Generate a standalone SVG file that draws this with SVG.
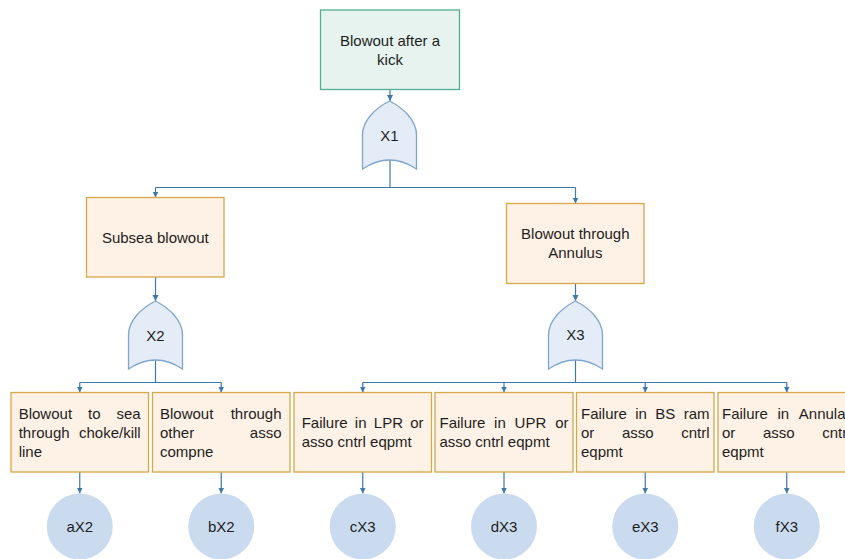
<svg xmlns="http://www.w3.org/2000/svg" width="845" height="559" viewBox="0 0 845 559">
<style>
text{font-family:"Liberation Sans",Arial,sans-serif;font-size:15px;fill:#1e1e1e}
.c{text-anchor:middle}
.e{text-anchor:end}
.top{fill:#e6f3ef;stroke:#55ad93;stroke-width:1.3}
.box{fill:#fef1e5;stroke:#d8a748;stroke-width:1.3}
.gate{fill:#e4ecf7;stroke:#7ea6cd;stroke-width:1.3}
.ev{fill:#cbdbef}
.ln{fill:none;stroke:#3d78ab;stroke-width:1.2}
.la{fill:none;stroke:#3d78ab;stroke-width:1.2;marker-end:url(#arr)}
</style>
<defs>
<marker id="arr" markerUnits="userSpaceOnUse" markerWidth="7" markerHeight="7" refX="6" refY="3.5" orient="auto">
<path d="M0,0.5 L6,3.5 L0,6.5 z" fill="#3d78ab"/>
</marker>
</defs>
<rect width="845" height="559" fill="#ffffff"/>
<g id="connectors">
<line class="la" x1="390" y1="89.5" x2="390" y2="101"/>
<polyline class="ln" points="390,160 390,187.5"/>
<line class="ln" x1="155.5" y1="187.5" x2="575.5" y2="187.5"/>
<line class="la" x1="155.5" y1="187.5" x2="155.5" y2="197.5"/>
<line class="la" x1="575.5" y1="187.5" x2="575.5" y2="203.5"/>
<line class="la" x1="155.5" y1="277" x2="155.5" y2="301"/>
<line class="la" x1="575.5" y1="283.5" x2="575.5" y2="301"/>
<line class="ln" x1="155.5" y1="360" x2="155.5" y2="382.5"/>
<line class="ln" x1="79.75" y1="382.5" x2="221.25" y2="382.5"/>
<line class="la" x1="79.75" y1="382.5" x2="79.75" y2="392.5"/>
<line class="la" x1="221.25" y1="382.5" x2="221.25" y2="392.5"/>
<line class="ln" x1="575.5" y1="360" x2="575.5" y2="382.5"/>
<line class="ln" x1="362.75" y1="382.5" x2="786.75" y2="382.5"/>
<line class="la" x1="362.75" y1="382.5" x2="362.75" y2="392.5"/>
<line class="la" x1="504" y1="382.5" x2="504" y2="392.5"/>
<line class="la" x1="645.25" y1="382.5" x2="645.25" y2="392.5"/>
<line class="la" x1="786.75" y1="382.5" x2="786.75" y2="392.5"/>
<line class="la" x1="79.75" y1="472" x2="79.75" y2="493.5"/>
<line class="la" x1="221.25" y1="472" x2="221.25" y2="493.5"/>
<line class="la" x1="362.75" y1="472" x2="362.75" y2="493.5"/>
<line class="la" x1="504" y1="472" x2="504" y2="493.5"/>
<line class="la" x1="645.25" y1="472" x2="645.25" y2="493.5"/>
<line class="la" x1="786.75" y1="472" x2="786.75" y2="493.5"/>
</g>
<g id="top">
<rect class="top" x="320.5" y="10" width="139" height="79.5"/>
<text class="c" x="390" y="45.5">Blowout after a</text>
<text class="c" x="390" y="64.5">kick</text>
</g>
<g id="X1">
<path class="gate" d="M389.5,101 C376,108 362.5,120 362.5,135 L362.5,169 Q389.5,151 416.5,169 L416.5,135 C416.5,120 403,108 389.5,101 Z"/>
<text class="c" x="389.5" y="140.5">X1</text>
</g>
<g id="subsea">
<rect class="box" x="86.5" y="197.5" width="137.5" height="79.5"/>
<text class="c" x="155.3" y="243">Subsea blowout</text>
</g>
<g id="annulus">
<rect class="box" x="506.5" y="203.5" width="137.5" height="80"/>
<text class="c" x="575.3" y="238.5">Blowout through</text>
<text class="c" x="575.3" y="257.5">Annulus</text>
</g>
<g id="X2">
<path class="gate" d="M155.5,301 C142,308 128.5,320 128.5,335 L128.5,369 Q155.5,351 182.5,369 L182.5,335 C182.5,320 169,308 155.5,301 Z"/>
<text class="c" x="155.5" y="340.5">X2</text>
</g>
<g id="X3">
<path class="gate" d="M575.5,301 C562,308 548.5,320 548.5,335 L548.5,369 Q575.5,351 602.5,369 L602.5,335 C602.5,320 589,308 575.5,301 Z"/>
<text class="c" x="575.5" y="340">X3</text>
</g>
<g id="b1">
<rect class="box" x="11" y="392.5" width="137.5" height="79.5"/>
<text y="418.5"><tspan x="18.7">Blowout</tspan><tspan x="88.1">to</tspan><tspan x="140.7" class="e">sea</tspan></text>
<text y="437.5"><tspan x="18.7">through</tspan><tspan x="140.7" class="e">choke/kill</tspan></text>
<text x="18.7" y="456.5">line</text>
</g>
<g id="b2">
<rect class="box" x="152.5" y="392.5" width="137.5" height="79.5"/>
<text y="418.5"><tspan x="160">Blowout</tspan><tspan x="281.5" class="e">through</tspan></text>
<text y="437.5"><tspan x="160">other</tspan><tspan x="281.5" class="e">asso</tspan></text>
<text x="160" y="456.5">compne</text>
</g>
<g id="b3">
<rect class="box" x="294" y="392.5" width="137.5" height="79.5"/>
<text y="428"><tspan x="301.7">Failure</tspan><tspan x="354.8">in</tspan><tspan x="373.8">LPR</tspan><tspan x="423.5" class="e">or</tspan></text>
<text x="301.7" y="447">asso cntrl eqpmt</text>
</g>
<g id="b4">
<rect class="box" x="435" y="392.5" width="138" height="79.5"/>
<text y="428"><tspan x="439.5">Failure</tspan><tspan x="494.1">in</tspan><tspan x="514.6">UPR</tspan><tspan x="568.5" class="e">or</tspan></text>
<text x="439.5" y="447">asso cntrl eqpmt</text>
</g>
<g id="b5">
<rect class="box" x="576.5" y="392.5" width="137.5" height="79.5"/>
<text y="418.5"><tspan x="581">Failure</tspan><tspan x="635.2">in</tspan><tspan x="655.3">BS</tspan><tspan x="709.5" class="e">ram</tspan></text>
<text y="437.5"><tspan x="581">or</tspan><tspan x="621.9">asso</tspan><tspan x="709.5" class="e">cntrl</tspan></text>
<text x="581" y="456.5">eqpmt</text>
</g>
<g id="b6">
<rect class="box" x="718" y="392.5" width="137.5" height="79.5"/>
<text y="418.5"><tspan x="722">Failure</tspan><tspan x="777.5">in</tspan><tspan x="850.5" class="e">Annular</tspan></text>
<text y="437.5"><tspan x="722">or</tspan><tspan x="762.9">asso</tspan><tspan x="850.5" class="e">cntrl</tspan></text>
<text x="722" y="456.5">eqpmt</text>
</g>
<g id="aX2"><circle class="ev" cx="79.75" cy="526.5" r="33"/><text class="c" x="79.75" y="532">aX2</text></g>
<g id="bX2"><circle class="ev" cx="221.25" cy="526.5" r="33"/><text class="c" x="221.25" y="532">bX2</text></g>
<g id="cX3"><circle class="ev" cx="362.75" cy="526.5" r="33"/><text class="c" x="362.75" y="532">cX3</text></g>
<g id="dX3"><circle class="ev" cx="504" cy="526.5" r="33"/><text class="c" x="504" y="532">dX3</text></g>
<g id="eX3"><circle class="ev" cx="645.25" cy="526.5" r="33"/><text class="c" x="645.25" y="532">eX3</text></g>
<g id="fX3"><circle class="ev" cx="786.75" cy="526.5" r="33"/><text class="c" x="786.75" y="532">fX3</text></g>
</svg>
